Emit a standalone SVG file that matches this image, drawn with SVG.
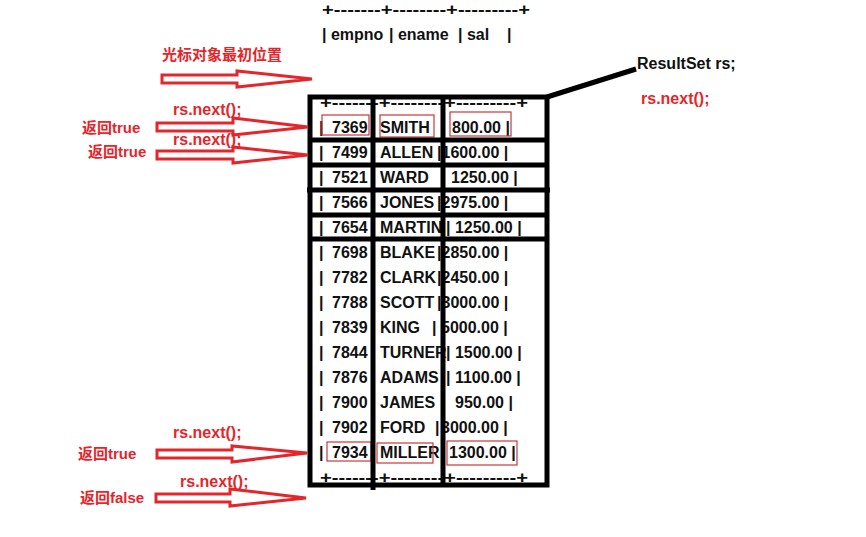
<svg xmlns="http://www.w3.org/2000/svg" width="866" height="537" viewBox="0 0 866 537">
<style>
.t{font-family:"Liberation Sans","Noto Sans CJK SC",sans-serif;font-weight:bold;font-size:16px;fill:#111}
.r{font-family:"Liberation Sans","Noto Sans CJK SC",sans-serif;font-weight:bold;font-size:15px;fill:#e3262b}
.rn{font-family:"Liberation Sans",sans-serif;font-weight:bold;font-size:16px;fill:#e3262b}
.arr{fill:#fff;stroke:#e3262b;stroke-width:3;stroke-linejoin:miter}
.bk{stroke:#000;stroke-width:5;fill:none}
.hl{fill:none;stroke:#c8363a;stroke-width:1.2}
</style>
<rect width="866" height="537" fill="#fff"/>
<g id="header">
<text class="t" x="322" y="15" textLength="208" lengthAdjust="spacingAndGlyphs">+-------+--------+---------+</text>
<text class="t" x="322" y="40">| empno</text>
<text class="t" x="389" y="40">| ename</text>
<text class="t" x="458" y="40">| sal</text>
<text class="t" x="507" y="40">|</text>
</g>
<g id="rows">
<text class="t" x="320" y="108" textLength="208" lengthAdjust="spacingAndGlyphs">+-------+--------+---------+</text>
<g class="row"><text class="t" x="319" y="133">|</text><text class="t" x="332" y="133">7369</text><text class="t" x="380" y="133">SMITH</text><text class="t" x="452" y="133">800.00 |</text></g>
<g class="row"><text class="t" x="319" y="158">|</text><text class="t" x="332" y="158">7499</text><text class="t" x="380" y="158">ALLEN</text><text class="t" x="437" y="158">|1600.00 |</text></g>
<g class="row"><text class="t" x="319" y="183">|</text><text class="t" x="332" y="183">7521</text><text class="t" x="380" y="183">WARD</text><text class="t" x="451" y="183">1250.00 |</text></g>
<g class="row"><text class="t" x="319" y="208">|</text><text class="t" x="332" y="208">7566</text><text class="t" x="380" y="208">JONES</text><text class="t" x="437" y="208">|2975.00 |</text></g>
<g class="row"><text class="t" x="319" y="233">|</text><text class="t" x="332" y="233">7654</text><text class="t" x="380" y="233">MARTIN</text><text class="t" x="446" y="233">| 1250.00 |</text></g>
<g class="row"><text class="t" x="319" y="258">|</text><text class="t" x="332" y="258">7698</text><text class="t" x="380" y="258">BLAKE</text><text class="t" x="437" y="258">|2850.00 |</text></g>
<g class="row"><text class="t" x="319" y="283">|</text><text class="t" x="332" y="283">7782</text><text class="t" x="380" y="283">CLARK</text><text class="t" x="437" y="283">|2450.00 |</text></g>
<g class="row"><text class="t" x="319" y="308">|</text><text class="t" x="332" y="308">7788</text><text class="t" x="380" y="308">SCOTT</text><text class="t" x="437" y="308">|3000.00 |</text></g>
<g class="row"><text class="t" x="319" y="333">|</text><text class="t" x="332" y="333">7839</text><text class="t" x="380" y="333">KING</text><text class="t" x="432" y="333">|</text><text class="t" x="441" y="333">5000.00 |</text></g>
<g class="row"><text class="t" x="319" y="358">|</text><text class="t" x="332" y="358">7844</text><text class="t" x="380" y="358">TURNER</text><text class="t" x="446" y="358">| 1500.00 |</text></g>
<g class="row"><text class="t" x="319" y="383">|</text><text class="t" x="332" y="383">7876</text><text class="t" x="380" y="383">ADAMS</text><text class="t" x="446" y="383">| 1100.00 |</text></g>
<g class="row"><text class="t" x="319" y="408">|</text><text class="t" x="332" y="408">7900</text><text class="t" x="380" y="408">JAMES</text><text class="t" x="455" y="408">950.00 |</text></g>
<g class="row"><text class="t" x="319" y="433">|</text><text class="t" x="332" y="433">7902</text><text class="t" x="380" y="433">FORD</text><text class="t" x="435" y="433">|</text><text class="t" x="441" y="433">3000.00 |</text></g>
<g class="row"><text class="t" x="319" y="458">|</text><text class="t" x="332" y="458">7934</text><text class="t" x="380" y="458">MILLER</text><text class="t" x="449" y="458">1300.00 |</text></g>
<text class="t" x="320" y="483" textLength="208" lengthAdjust="spacingAndGlyphs">+-------+--------+---------+</text>
</g>
<g id="highlights">
<rect class="hl" x="322" y="115" width="47" height="20"/>
<rect class="hl" x="380" y="115" width="54" height="22"/>
<rect class="hl" x="450" y="112" width="61" height="24"/>
<rect class="hl" x="327" y="442" width="44" height="19"/>
<rect class="hl" x="377" y="443" width="56" height="20"/>
<rect class="hl" x="447" y="441" width="70" height="24"/>
</g>
<g id="table-frame">
<rect class="bk" x="310" y="97" width="237" height="388"/>
<line class="bk" x1="373" y1="97" x2="373" y2="490"/>
<line class="bk" x1="443" y1="97" x2="443" y2="485"/>
<line class="bk" x1="310" y1="140" x2="547" y2="140"/>
<line class="bk" x1="310" y1="165" x2="547" y2="165"/>
<line class="bk" x1="307" y1="190" x2="550" y2="190"/>
<line class="bk" x1="310" y1="215" x2="547" y2="215"/>
<line class="bk" x1="310" y1="239" x2="547" y2="239"/>
</g>
<g id="resultset">
<line class="bk" x1="547" y1="97" x2="636" y2="69"/>
<text class="t" x="637" y="69">ResultSet rs;</text>
<text class="rn" x="641" y="104">rs.next();</text>
</g>
<g id="connectors">
<polygon class="arr" points="162,75 237,75 237,71 312,79 237,87 237,83 162,83"/>
<polygon class="arr" points="157,123 233,123 233,118 308,127 233,135 233,131 157,131"/>
<polygon class="arr" points="157,151 233,151 233,147 308,155 233,163 233,159 157,159"/>
<polygon class="arr" points="157,450 232,450 232,446 307,453 232,462 232,458 157,458"/>
<polygon class="arr" points="156,494 230,494 230,489 306,498 230,506 230,502 156,502"/>
</g>
<g id="labels">
<text class="r" x="162" y="60">光标对象最初位置</text>
<text class="rn" x="173" y="115">rs.next();</text>
<text class="r" x="82" y="133">返回true</text>
<text class="rn" x="173" y="145">rs.next();</text>
<text class="r" x="88" y="157">返回true</text>
<text class="rn" x="173" y="438">rs.next();</text>
<text class="r" x="78" y="459">返回true</text>
<text class="rn" x="180" y="487">rs.next();</text>
<text class="r" x="80" y="503">返回false</text>
</g>
</svg>
